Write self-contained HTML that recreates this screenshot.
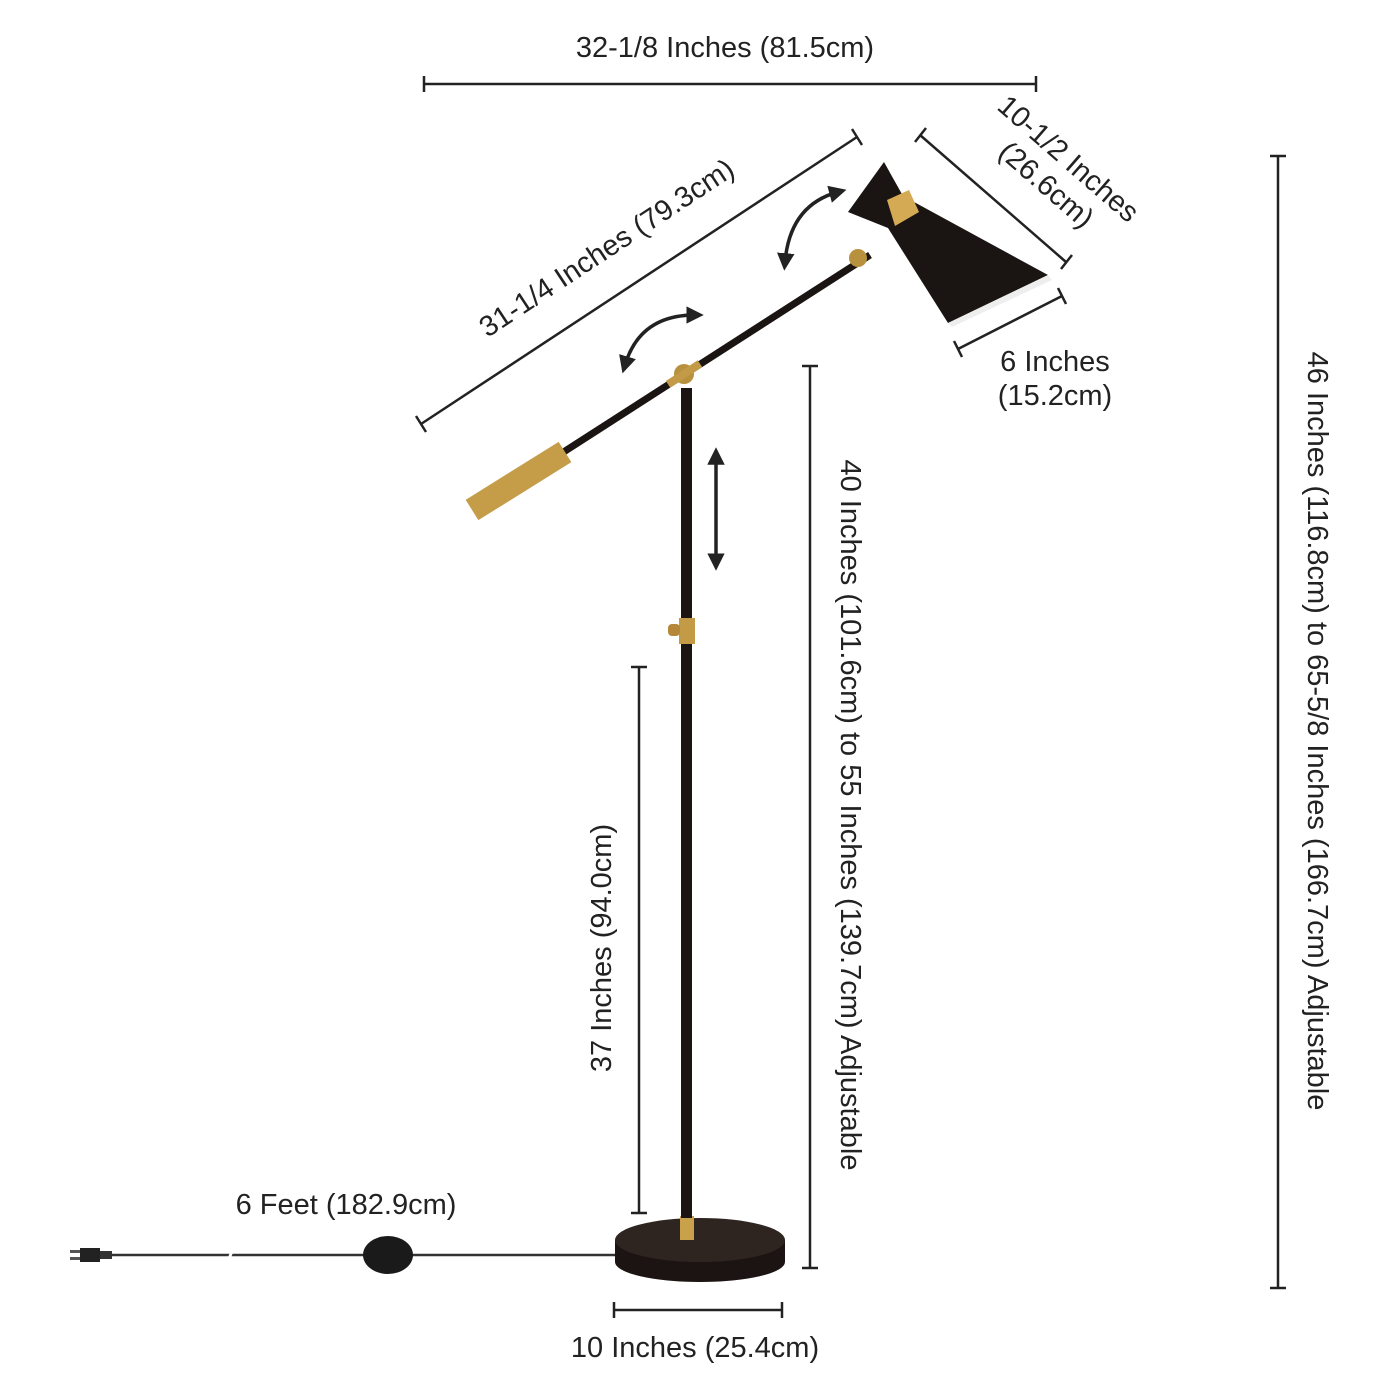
<!DOCTYPE html>
<html><head><style>body{margin:0;background:#fff}svg{display:block}</style></head><body>
<svg width="1400" height="1400" viewBox="0 0 1400 1400" xmlns="http://www.w3.org/2000/svg" font-family="Liberation Sans, sans-serif" fill="#222">
<defs>
<marker id="ah" viewBox="0 0 10 10" refX="5" refY="5" markerWidth="5" markerHeight="5" orient="auto-start-reverse"><path d="M0,0L10,5L0,10z" fill="#222"/></marker>
</defs>
<g stroke="#222" stroke-width="2.5" fill="none">
<line x1="424" y1="84" x2="1036" y2="84"/><line x1="424" y1="76" x2="424" y2="92"/><line x1="1036" y1="76" x2="1036" y2="92"/>
<line x1="421" y1="424" x2="857" y2="137"/><line x1="416" y1="416" x2="426" y2="432"/><line x1="852" y1="129" x2="862" y2="145"/>
<line x1="920" y1="135" x2="1066" y2="262"/><line x1="915" y1="142" x2="926" y2="128"/><line x1="1061" y1="269" x2="1072" y2="255"/>
<line x1="958" y1="349" x2="1062" y2="296"/><line x1="954" y1="341" x2="962" y2="357"/><line x1="1058" y1="288" x2="1066" y2="304"/>
<line x1="1278" y1="156" x2="1278" y2="1288"/><line x1="1270" y1="156" x2="1286" y2="156"/><line x1="1270" y1="1288" x2="1286" y2="1288"/>
<line x1="810" y1="366" x2="810" y2="1268"/><line x1="802" y1="366" x2="818" y2="366"/><line x1="802" y1="1268" x2="818" y2="1268"/>
<line x1="639" y1="667" x2="639" y2="1213"/><line x1="631" y1="667" x2="647" y2="667"/><line x1="631" y1="1213" x2="647" y2="1213"/>
<line x1="614" y1="1310" x2="782" y2="1310"/><line x1="614" y1="1302" x2="614" y2="1318"/><line x1="782" y1="1302" x2="782" y2="1318"/>
<path d="M625,365 Q640,315 695,315" stroke-width="3.5" marker-start="url(#ah)" marker-end="url(#ah)"/>
<path d="M785,262 Q790,205 838,192" stroke-width="3.5" marker-start="url(#ah)" marker-end="url(#ah)"/>
<line x1="716" y1="456" x2="716" y2="562" stroke-width="3.5" marker-start="url(#ah)" marker-end="url(#ah)"/>
</g>
<!-- cord -->
<line x1="108" y1="1255" x2="616" y2="1255" stroke="#333" stroke-width="2.5"/>
<line x1="228" y1="1262" x2="233" y2="1248" stroke="#fff" stroke-width="3"/>
<rect x="80" y="1248" width="20" height="14" fill="#222"/><rect x="70" y="1250" width="10" height="3" fill="#555"/><rect x="70" y="1257" width="10" height="3" fill="#555"/><rect x="100" y="1251" width="12" height="8" fill="#333"/>
<ellipse cx="388" cy="1255" rx="25" ry="19" fill="#1a1a1a"/>
<!-- base -->
<path d="M615,1240 L615,1262 A85,20 0 0 0 785,1262 L785,1240 Z" fill="#1c1412"/>
<ellipse cx="700" cy="1240" rx="85" ry="22" fill="#2e2420"/>
<rect x="680" y="1216" width="14" height="24" fill="#c9a14a"/>
<!-- pole -->
<rect x="681" y="388" width="11" height="830" fill="#1a1412"/>
<rect x="679" y="618" width="16" height="26" fill="#c39a45"/><rect x="668" y="624" width="12" height="12" rx="4" fill="#b48838"/>
<!-- arm -->
<line x1="520" y1="480" x2="870" y2="255" stroke="#1a1412" stroke-width="7"/>
<line x1="472" y1="510" x2="565" y2="452" stroke="#c59c48" stroke-width="24"/>
<circle cx="684" cy="374" r="10" fill="#b8913e"/><rect x="665" y="370" width="38" height="8" fill="#c39a45" transform="rotate(-33 684 374)"/>
<circle cx="858" cy="258" r="9" fill="#b8913e"/>
<!-- shade -->
<polygon points="848,212 884,162 903,196 1048,275 948,323 888,228" fill="#1a1412"/>
<polygon points="1048,275 948,323 952,327 1052,280" fill="#eee"/>
<polygon points="887,200 909,190 919,212 895,226" fill="#d4aa55"/>
<g font-size="29" text-anchor="middle">
<text x="725" y="57">32-1/8 Inches (81.5cm)</text>
<text transform="translate(612,256) rotate(-33.4)">31-1/4 Inches (79.3cm)</text>
<text transform="translate(1062,166) rotate(41)">10-1/2 Inches</text>
<text transform="translate(1040,192) rotate(41)">(26.6cm)</text>
<text x="1055" y="371">6 Inches</text>
<text x="1055" y="405">(15.2cm)</text>
<text transform="translate(1308,731) rotate(90)">46 Inches (116.8cm) to 65-5/8 Inches (166.7cm) Adjustable</text>
<text transform="translate(841,815) rotate(90)">40 Inches (101.6cm) to 55 Inches (139.7cm) Adjustable</text>
<text transform="translate(611,948) rotate(-90)">37 Inches (94.0cm)</text>
<text x="346" y="1214">6 Feet (182.9cm)</text>
<text x="695" y="1357">10 Inches (25.4cm)</text>
</g>
</svg>
</body></html>
